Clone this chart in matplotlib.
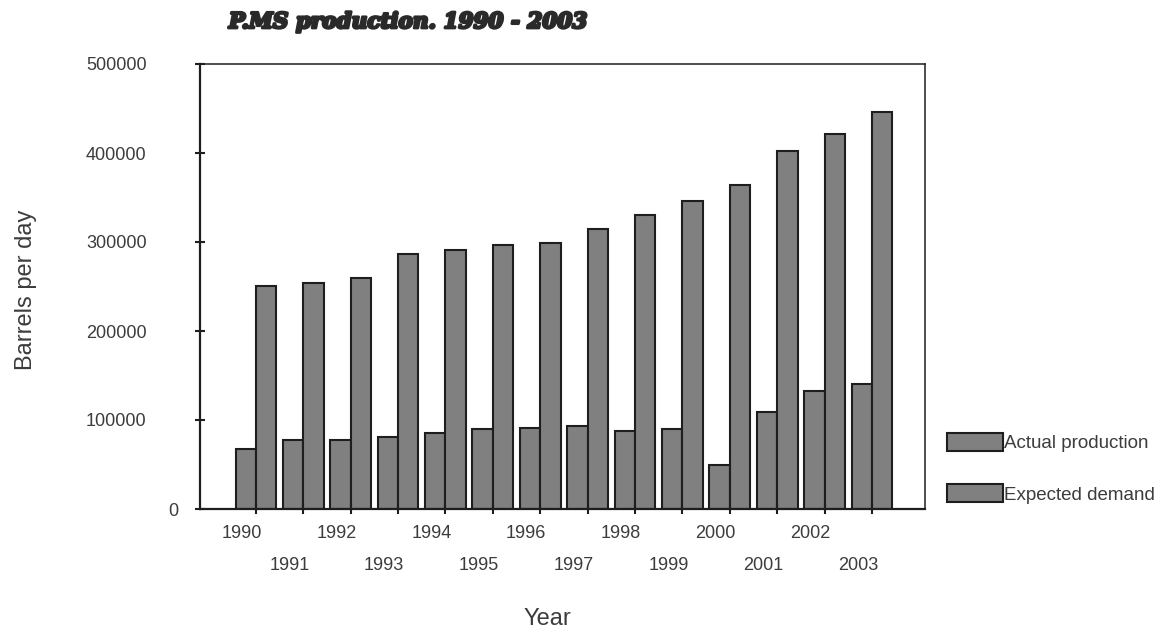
import matplotlib
matplotlib.use("Agg")
import matplotlib.pyplot as plt
import matplotlib.transforms as mtransforms
import matplotlib.patheffects as pe
import numpy as np

# Yearly figures, barrels per day
years = ["1990", "1991", "1992", "1993", "1994", "1995", "1996",
         "1997", "1998", "1999", "2000", "2001", "2002", "2003"]
actual_production = [67000, 78000, 77000, 81000, 85000, 90000, 91000,
                     93000, 88000, 90000, 49000, 109000, 133000, 140000]
expected_demand = [251000, 254000, 260000, 286000, 291000, 297000, 299000,
                   315000, 330000, 346000, 364000, 402000, 421000, 446000]
y_ticks = [0, 100000, 200000, 300000, 400000, 500000]

text_col = "#3c3c3c"
bar_col = "#808080"
edge_col = "#1e1e1e"
plt.rcParams["font.family"] = ["Liberation Sans", "DejaVu Sans"]

fig = plt.figure(figsize=(11.75, 6.33), dpi=100)
ax = fig.add_axes([200 / 1175, 124 / 633, 725 / 1175, 445 / 633])

x = np.arange(len(years))
w = 0.43
ax.bar(x - w / 2, actual_production, width=w, color=bar_col,
       edgecolor=edge_col, linewidth=1.5, label="Actual production")
ax.bar(x + w / 2, expected_demand, width=w, color=bar_col,
       edgecolor=edge_col, linewidth=1.5, label="Expected demand")

ax.set_xlim(-1.18, 14.12)
ax.set_ylim(0, 500000)

# y axis
ax.set_yticks(y_ticks)
ax.set_yticklabels([str(v) for v in y_ticks])
ax.tick_params(axis="y", direction="inout", length=7, width=1.5,
               pad=35, labelsize=13, labelcolor=text_col, color=edge_col)
# the zero label sits closer to the axis
shift = mtransforms.ScaledTranslation(32 / 100, 0, fig.dpi_scale_trans)
zero_lab = ax.get_yticklabels()[0]
zero_lab.set_transform(zero_lab.get_transform() + shift)

# x axis: even years on the first row, odd years on the second
ax.set_xticks(x[::2])
ax.set_xticklabels(years[::2])
ax.set_xticks(x[1::2], minor=True)
ax.set_xticklabels(years[1::2], minor=True)
ax.tick_params(axis="x", which="both", direction="inout", length=7,
               width=1.5, labelsize=13, labelcolor=text_col, color=edge_col)
ax.tick_params(axis="x", which="major", pad=8)
ax.tick_params(axis="x", which="minor", pad=31)
left_shift = mtransforms.ScaledTranslation(-14 / 100, 0, fig.dpi_scale_trans)
for lab in ax.get_xticklabels() + ax.get_xticklabels(minor=True):
    lab.set_transform(lab.get_transform() + left_shift)

for side in ["left", "bottom"]:
    ax.spines[side].set_linewidth(1.6)
for side in ["top", "right"]:
    ax.spines[side].set_linewidth(1.1)
for s in ax.spines.values():
    s.set_color(edge_col)

fig.text(26 / 1175, 1 - 290 / 633, "Barrels per day", rotation=90,
         ha="center", va="center", fontsize=17, color=text_col)
fig.text(547 / 1175, 1 - 619 / 633, "Year", ha="center", va="center",
         fontsize=17, color=text_col)

fig.text(408 / 1175, 1 - 22 / 633, "P.MS production. 1990 - 2003",
         ha="center", va="center", fontsize=15.5, fontweight="heavy",
         fontstyle="italic", family="DejaVu Serif", color="#2a2a2a",
         path_effects=[pe.withStroke(linewidth=2.0, foreground="#2a2a2a")])

fig.legend(loc="upper left", bbox_to_anchor=(947 / 1175, 1 - 433 / 633),
           bbox_transform=fig.transFigure, frameon=False, fontsize=13.5,
           handlelength=3.0, handleheight=1.1, handletextpad=0.05,
           labelspacing=1.7, borderpad=0, borderaxespad=0,
           labelcolor=text_col)

fig.savefig("out.png", dpi=100)
